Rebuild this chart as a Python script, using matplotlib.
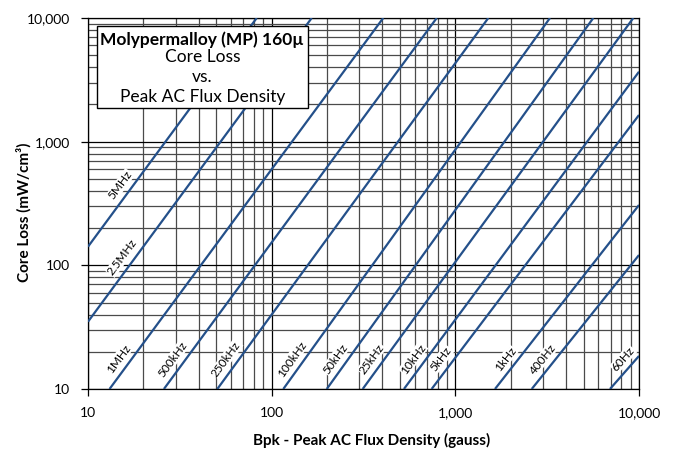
import numpy as np
import matplotlib
matplotlib.use("Agg")
import matplotlib.pyplot as plt
from matplotlib.patches import Rectangle
from matplotlib.ticker import FixedLocator, FuncFormatter, LogLocator, NullFormatter

# ---- data ----
freqs = ['5MHz', '2.5MHz', '1MHz', '500kHz', '250kHz', '100kHz', '50kHz',
         '25kHz', '10kHz', '5kHz', '1kHz', '400Hz', '60Hz']
# start point of each curve (flux density in gauss, core loss in mW/cm3)
b_start = [10, 10, 13.1, 25.9, 50.6, 115.7, 199.5, 313, 525, 743, 1644, 2606, 6950]
loss_start = [141.5, 35.0, 10, 10, 10, 10, 10, 10, 10, 10, 10, 10, 10]
# end point of each curve
b_end = [82.9, 165.2, 405, 792, 1512, 3275, 5637, 9310, 10000, 10000, 10000, 10000, 10000]
loss_end = [10000, 10000, 10000, 10000, 10000, 10000, 10000, 10000, 3679, 1643, 307.5, 121.2, 18.5]

x_ticks = [10, 100, 1000, 10000]
y_ticks = [10, 100, 1000, 10000]

# label placement (core loss level at which each label sits)
label_loss = [446, 116.7, 17.5, 17.5, 17.5, 17.5, 17.5, 17.5, 17.5, 17.5, 17.5, 17.5, 17.5]

FONT = ['Lato', 'DejaVu Sans']
plt.rcParams['font.family'] = FONT

fig = plt.figure(figsize=(6.74, 4.51), dpi=100)
ax = fig.add_axes([88/674, 1-389/451, (639-88)/674, (389-18)/451])
ax.set_xscale('log')
ax.set_yscale('log')
ax.set_xlim(10, 10000)
ax.set_ylim(10, 10000)

ax.xaxis.set_major_locator(FixedLocator(x_ticks))
ax.yaxis.set_major_locator(FixedLocator(y_ticks))
ax.xaxis.set_minor_locator(LogLocator(base=10, subs=np.arange(2, 10)))
ax.yaxis.set_minor_locator(LogLocator(base=10, subs=np.arange(2, 10)))
ax.xaxis.set_minor_formatter(NullFormatter())
ax.yaxis.set_minor_formatter(NullFormatter())
fmt = FuncFormatter(lambda v, p: f"{int(round(v)):,}")
ax.xaxis.set_major_formatter(fmt)
ax.yaxis.set_major_formatter(fmt)

ax.grid(True, which='major', color='black', lw=0.9, zorder=0)
ax.grid(True, which='minor', color='#4a4a4a', lw=0.9, zorder=0)
ax.set_axisbelow(True)
ax.tick_params(which='major', direction='out', length=5, width=0.9, labelsize=10, pad=8)
ax.tick_params(which='minor', length=0)
for s in ax.spines.values():
    s.set_color('black')
    s.set_linewidth(0.9)

line_color = '#24508a'
for i, f in enumerate(freqs):
    ax.plot([b_start[i], b_end[i]], [loss_start[i], loss_end[i]],
            color=line_color, lw=1.6, zorder=3, solid_capstyle='butt')

# labels beside the curves
for i, f in enumerate(freqs):
    lb0, lb1 = np.log10(b_start[i]), np.log10(b_end[i])
    lp0, lp1 = np.log10(loss_start[i]), np.log10(loss_end[i])
    lp = np.log10(label_loss[i])
    bx = 10 ** (lb0 + (lp - lp0) * (lb1 - lb0) / (lp1 - lp0))
    p1 = ax.transData.transform((b_start[i], loss_start[i]))
    p2 = ax.transData.transform((b_end[i], loss_end[i]))
    ang = np.degrees(np.arctan2(p2[1] - p1[1], p2[0] - p1[0]))
    ax.annotate(f, xy=(bx, label_loss[i]), xytext=(-9.5, 0), textcoords='offset points',
                rotation=ang, rotation_mode='anchor', ha='center', va='center',
                fontsize=8.5, color='black', zorder=4,
                bbox=dict(boxstyle='square,pad=0.05', fc='white', ec='none'))

# title box
x0, x1 = (97-88)/551, (307.7-88)/551
y0, y1 = (389-108.3)/371, (389-26)/371
ax.add_patch(Rectangle((x0, y0), x1-x0, y1-y0, transform=ax.transAxes,
                       fc='white', ec='black', lw=1.0, zorder=5))
cx = (x0 + x1) / 2
ax.text(cx, (389-39.3)/371, 'Molypermalloy (MP) 160µ', transform=ax.transAxes,
        ha='center', va='center', fontsize=12.5, fontweight='bold', zorder=6)
ax.text(cx, (389-57.3)/371, 'Core Loss', transform=ax.transAxes,
        ha='center', va='center', fontsize=12.5, zorder=6)
ax.text(cx, (389-77.3)/371, 'vs.', transform=ax.transAxes,
        ha='center', va='center', fontsize=12.5, zorder=6)
ax.text(cx, (389-96.7)/371, 'Peak AC Flux Density', transform=ax.transAxes,
        ha='center', va='center', fontsize=12.5, zorder=6)

fig.text(372/674, 1-440/451, 'Bpk - Peak AC Flux Density (gauss)', ha='center', va='center',
         fontsize=11, fontweight='bold')
fig.text(24/674, 1-212/451, 'Core Loss (mW/cm³)', ha='center', va='center', rotation=90,
         fontsize=11, fontweight='bold')

fig.savefig('out.png', dpi=100)
